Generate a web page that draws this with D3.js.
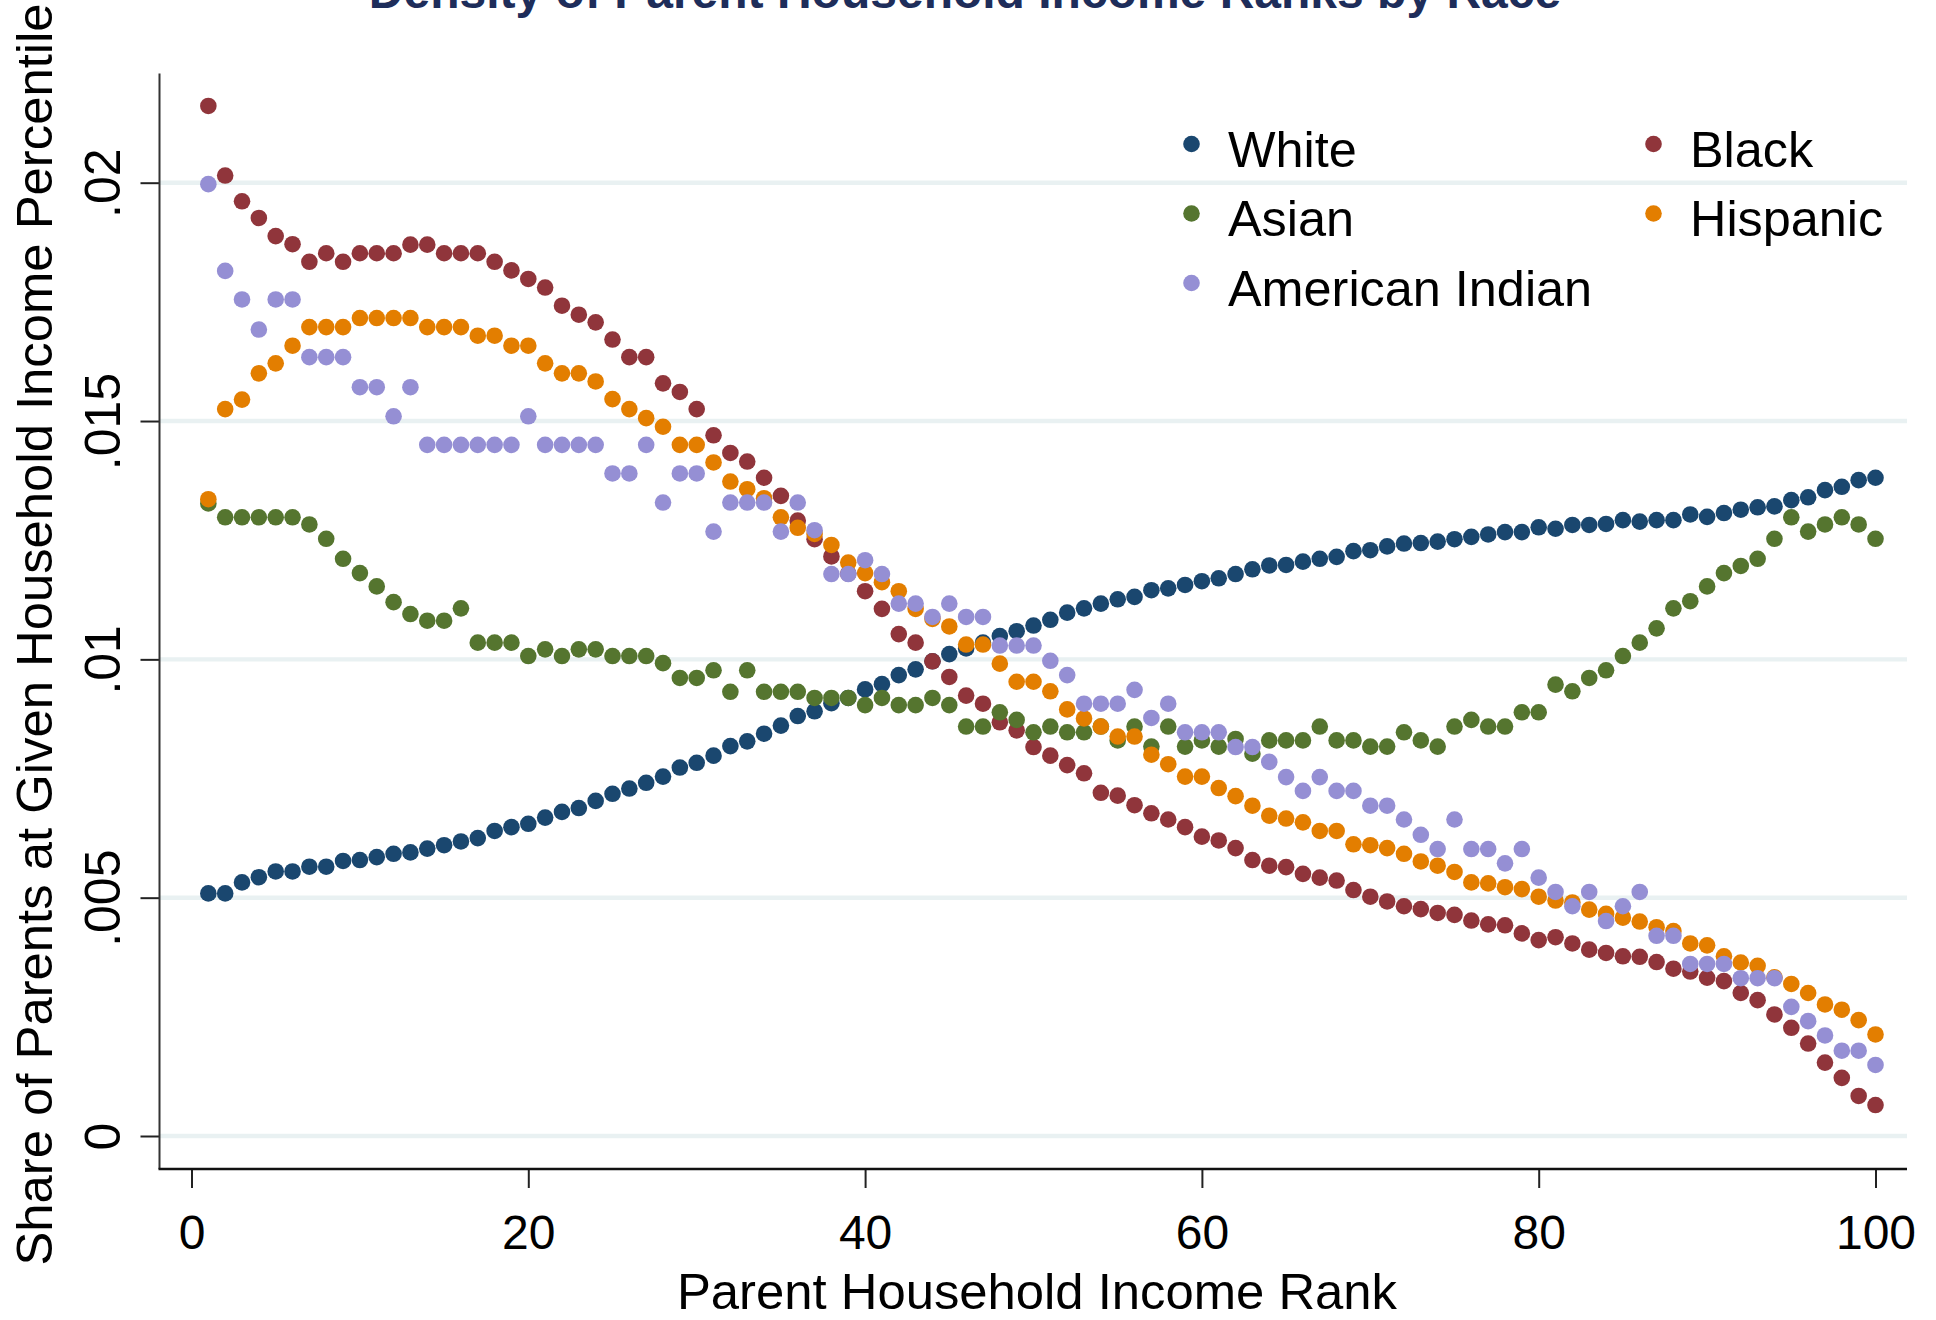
<!DOCTYPE html>
<html>
<head>
<meta charset="utf-8">
<script src="https://cdn.jsdelivr.net/npm/d3@7"></script>
<style>
  html, body { margin: 0; padding: 0; background: #ffffff; }
  svg { display: block; }
  text { font-family: "Liberation Sans", Arial, Helvetica, sans-serif; }
</style>
</head>
<body>
<svg id="chart" width="1936" height="1320"></svg>
<script>
// ---------------- data ----------------
const titleText = "Density of Parent Household Income Ranks by Race";
const xTitle = "Parent Household Income Rank";
const yTitle = "Share of Parents at Given Household Income Percentile";

const ranks = d3.range(1, 101);

const xTicks = [0, 20, 40, 60, 80, 100];
const yTicks = [0, 0.005, 0.01, 0.015, 0.02];
const yTickLabels = ["0", ".005", ".01", ".015", ".02"];

const seriesNames = ["White", "Black", "Asian", "Hispanic", "American Indian"];
const seriesColors = ["#1a476f", "#90353b", "#55752f", "#e37e00", "#958fd4"];

const white = [
  .00509, .00509, .00532, .00543, .00555, .00555, .00565, .00565, .00577, .00579,
  .00585, .00592, .00595, .00603, .00610, .00618, .00625, .00640, .00648, .00655,
  .00668, .00680, .00688, .00703, .00718, .00729, .00741, .00754, .00773, .00783,
  .00798, .00818, .00828, .00844, .00861, .00881, .00891, .00908, .00919, .00937,
  .00948, .00967, .00979, .00996, .01011, .01023, .01035, .01049, .01059, .01071,
  .01083, .01098, .01107, .01117, .01126, .01131, .01145, .01149, .01156, .01164,
  .01170, .01179, .01189, .01197, .01198, .01205, .01211, .01215, .01227, .01229,
  .01237, .01243, .01244, .01247, .01252, .01257, .01262, .01267, .01267, .01277,
  .01274, .01282, .01282, .01284, .01292, .01289, .01292, .01292, .01304, .01299,
  .01307, .01314, .01319, .01321, .01334, .01340, .01355, .01362, .01376, .01381
];

const black = [
  .02161, .02015, .01961, .01926, .01888, .01871, .01834, .01852, .01834, .01852,
  .01852, .01852, .01870, .01870, .01852, .01852, .01852, .01834, .01816, .01798,
  .01780, .01742, .01723, .01707, .01671, .01634, .01634, .01579, .01561, .01525,
  .01470, .01433, .01415, .01381, .01343, .01291, .01252, .01216, .01180, .01143,
  .01106, .01053, .01035, .00996, .00963, .00924, .00907, .00868, .00851, .00816,
  .00798, .00778, .00761, .00720, .00714, .00694, .00677, .00664, .00648, .00628,
  .00620, .00604, .00579, .00567, .00564, .00550, .00542, .00536, .00516, .00502,
  .00492, .00482, .00476, .00468, .00464, .00452, .00444, .00442, .00425, .00411,
  .00417, .00404, .00391, .00384, .00377, .00376, .00365, .00351, .00345, .00332,
  .00325, .00300, .00285, .00255, .00227, .00194, .00154, .00122, .00084, .00065
];

const asian = [
  .01327, .01298, .01298, .01298, .01298, .01298, .01283, .01253, .01211, .01181,
  .01153, .01120, .01095, .01081, .01081, .01107, .01035, .01035, .01035, .01007,
  .01021, .01007, .01021, .01021, .01007, .01007, .01007, .00992, .00961, .00961,
  .00977, .00932, .00977, .00932, .00932, .00932, .00919, .00919, .00919, .00904,
  .00919, .00904, .00904, .00919, .00904, .00859, .00859, .00889, .00873, .00847,
  .00859, .00847, .00847, .00859, .00830, .00859, .00817, .00859, .00817, .00830,
  .00817, .00833, .00802, .00830, .00830, .00830, .00859, .00830, .00830, .00817,
  .00817, .00847, .00830, .00817, .00859, .00873, .00859, .00859, .00889, .00889,
  .00947, .00933, .00961, .00977, .01007, .01035, .01065, .01107, .01122, .01153,
  .01181, .01196, .01211, .01253, .01298, .01268, .01283, .01298, .01283, .01253
];

const hispanic = [
  .01336, .01525, .01545, .01600, .01621, .01658, .01697, .01697, .01697, .01716,
  .01716, .01716, .01716, .01697, .01697, .01697, .01679, .01679, .01658, .01658,
  .01621, .01600, .01600, .01583, .01546, .01525, .01506, .01488, .01450, .01450,
  .01413, .01373, .01357, .01338, .01298, .01276, .01263, .01240, .01203, .01181,
  .01162, .01143, .01106, .01085, .01069, .01031, .01031, .00991, .00953, .00953,
  .00933, .00895, .00876, .00859, .00838, .00838, .00800, .00780, .00754, .00754,
  .00730, .00713, .00693, .00672, .00666, .00658, .00640, .00640, .00612, .00610,
  .00604, .00592, .00576, .00567, .00554, .00532, .00530, .00522, .00518, .00502,
  .00494, .00490, .00475, .00466, .00458, .00450, .00438, .00430, .00404, .00400,
  .00377, .00364, .00357, .00333, .00319, .00300, .00276, .00265, .00243, .00213
];

const amIndian = [
  .01997, .01815, .01755, .01692, .01755, .01755, .01634, .01634, .01634, .01571,
  .01571, .01510, .01571, .01450, .01450, .01450, .01450, .01450, .01450, .01510,
  .01450, .01450, .01450, .01450, .01390, .01390, .01450, .01329, .01390, .01390,
  .01268, .01329, .01329, .01329, .01268, .01329, .01271, .01179, .01179, .01208,
  .01179, .01117, .01117, .01089, .01117, .01089, .01089, .01029, .01029, .01029,
  .00997, .00967, .00907, .00907, .00907, .00936, .00877, .00907, .00847, .00847,
  .00847, .00816, .00816, .00785, .00753, .00724, .00753, .00724, .00724, .00693,
  .00693, .00664, .00632, .00602, .00664, .00602, .00602, .00572, .00602, .00542,
  .00512, .00482, .00512, .00451, .00482, .00512, .00420, .00420, .00361, .00361,
  .00361, .00331, .00331, .00331, .00271, .00241, .00211, .00179, .00179, .00149
];

const seriesValues = [white, black, asian, hispanic, amIndian];

// ---------------- chart ----------------
const svg = d3.select("#chart");

const x = d3.scaleLinear().domain([0, 100]).range([191.5, 1875.5]);
const y = d3.scaleLinear().domain([0, 0.02]).range([1136, 182.7]);

const plotLeft = 159.5, plotRight = 1907, plotTop = 73.5, plotBottom = 1169;

// gridlines
svg.append("g")
  .selectAll("line")
  .data(yTicks)
  .join("line")
  .attr("x1", plotLeft).attr("x2", plotRight)
  .attr("y1", d => y(d)).attr("y2", d => y(d))
  .attr("stroke", "#e9f1f2")
  .attr("stroke-width", 4.4);

// y axis
const yAxis = d3.axisLeft(y).tickValues(yTicks).tickSize(19).tickPadding(0)
  .tickFormat((d, i) => yTickLabels[i]);
const gy = svg.append("g").attr("transform", `translate(${plotLeft},0)`).call(yAxis);
gy.select(".domain").remove();
gy.selectAll(".tick line").attr("stroke", "#222").attr("stroke-width", 2);
gy.selectAll(".tick text")
  .attr("x", null).attr("dy", null)
  .attr("transform", "translate(-39.5,0) rotate(-90)")
  .attr("text-anchor", "middle")
  .attr("fill", "#000")
  .style("font-size", "50px");
svg.append("line")
  .attr("x1", plotLeft).attr("x2", plotLeft)
  .attr("y1", plotTop).attr("y2", plotBottom)
  .attr("stroke", "#333").attr("stroke-width", 2);

// x axis
const xAxis = d3.axisBottom(x).tickValues(xTicks).tickSize(19).tickPadding(0)
  .tickFormat(d3.format("d"));
const gx = svg.append("g").attr("transform", `translate(0,${plotBottom})`).call(xAxis);
gx.select(".domain").remove();
gx.selectAll(".tick line").attr("stroke", "#222").attr("stroke-width", 2);
gx.selectAll(".tick text")
  .attr("y", 80).attr("dy", null)
  .attr("fill", "#000")
  .style("font-size", "48px");
svg.append("line")
  .attr("x1", plotLeft - 1).attr("x2", plotRight)
  .attr("y1", plotBottom).attr("y2", plotBottom)
  .attr("stroke", "#111").attr("stroke-width", 2.4);

// markers
const markerR = 8.3;
seriesValues.forEach((vals, si) => {
  svg.append("g")
    .selectAll("circle")
    .data(ranks.map((r, i) => [r, vals[i]]))
    .join("circle")
    .attr("cx", d => x(d[0]))
    .attr("cy", d => y(d[1]))
    .attr("r", markerR)
    .attr("fill", seriesColors[si]);
});

// legend (2 columns, row-major)
const legCols = [1191.5, 1653.5];
const legRows = [144, 213.5, 283];
const legend = svg.append("g");
seriesNames.forEach((name, i) => {
  const cx = legCols[i % 2], cy = legRows[Math.floor(i / 2)];
  legend.append("circle").attr("cx", cx).attr("cy", cy).attr("r", markerR).attr("fill", seriesColors[i]);
  legend.append("text").attr("x", cx + 36.5).attr("y", cy + 22.5)
    .style("font-size", "50.4px").attr("fill", "#000").text(name);
});

// titles
svg.append("text")
  .attr("x", 965).attr("y", 8)
  .attr("text-anchor", "middle")
  .style("font-size", "48px").style("font-weight", "bold")
  .attr("fill", "#1e2d5a")
  .text(titleText);

svg.append("text")
  .attr("x", 1037).attr("y", 1309)
  .attr("text-anchor", "middle")
  .style("font-size", "50.8px")
  .attr("fill", "#000")
  .text(xTitle);

svg.append("text")
  .attr("transform", "translate(52,634.5) rotate(-90)")
  .attr("text-anchor", "middle")
  .style("font-size", "50.8px")
  .attr("fill", "#000")
  .text(yTitle);
</script>
</body>
</html>
